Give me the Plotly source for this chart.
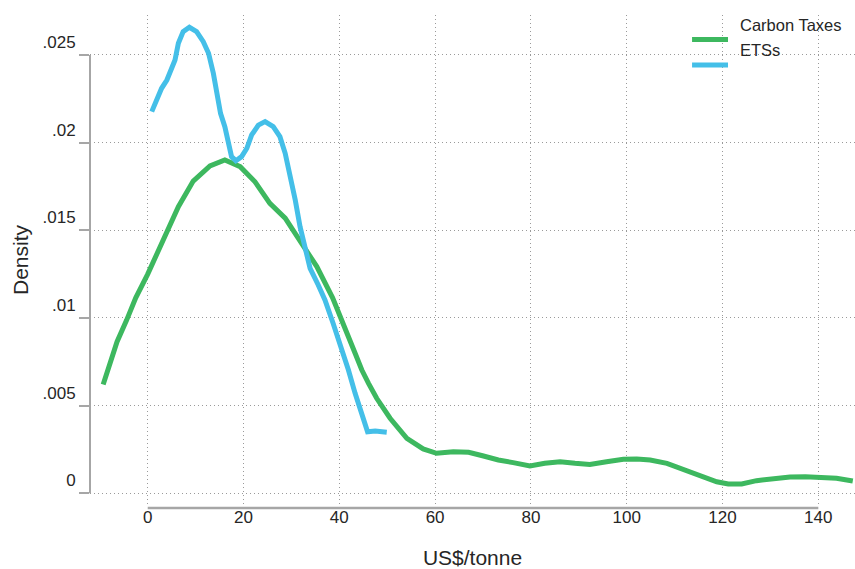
import plotly.graph_objects as go

# ---- data ----
tax_x = [-9.3, -6.4, -4.4, -2.5, 0.0, 3.3, 6.4, 9.5, 13.0, 16.1, 19.3, 22.4, 25.5, 28.7,
         31.8, 35.3, 38.6, 40.2, 41.9, 43.3, 44.7, 46.1, 47.8, 50.6, 54.1, 57.5, 60.3,
         63.8, 67.0, 70.1, 73.2, 76.3, 79.8, 82.9, 86.1, 89.2, 92.3, 95.8, 99.3, 102.1,
         104.9, 108.4, 111.8, 115.3, 118.8, 121.2, 124.0, 127.1, 130.6, 134.1, 137.3,
         140.4, 143.8, 147.2]
tax_y = [0.0062, 0.00865, 0.00988, 0.01115, 0.0125, 0.01445, 0.01635, 0.01781, 0.01867,
         0.01901, 0.01863, 0.01777, 0.01654, 0.01569, 0.01445, 0.01293, 0.01115, 0.00998,
         0.00893, 0.00799, 0.00703, 0.00627, 0.00542, 0.00428, 0.00314, 0.00253, 0.00228,
         0.00237, 0.00234, 0.00213, 0.0019, 0.00175, 0.00156, 0.00171, 0.0018, 0.00171,
         0.00165, 0.0018, 0.00194, 0.00196, 0.0019, 0.00171, 0.00139, 0.00099, 0.00066,
         0.00053, 0.00053, 0.00072, 0.00086, 0.00093, 0.00095, 0.00091, 0.00086, 0.0007]

ets_x = [0.84, 1.9, 2.9, 4.0, 5.0, 5.7, 6.4, 7.4, 8.7, 10.2, 11.6, 12.7, 13.7, 14.5, 15.2,
         16.1, 16.8, 17.5, 18.4, 19.6, 20.7, 21.7, 23.1, 24.5, 26.2, 27.6, 28.7, 29.7,
         30.8, 31.8, 32.9, 33.9, 35.6, 37.0, 38.7, 40.5, 41.9, 43.3, 44.7, 45.9, 47.5, 49.9]
ets_y = [0.02177, 0.02243, 0.0231, 0.02357, 0.02433, 0.02471, 0.02567, 0.02633, 0.02658,
         0.02633, 0.02576, 0.0251, 0.02396, 0.02281, 0.02167, 0.02091, 0.02015, 0.0192,
         0.01897, 0.0192, 0.01968, 0.02044, 0.021, 0.0212, 0.02091, 0.02034, 0.01939,
         0.01825, 0.01673, 0.01521, 0.01407, 0.01283, 0.01188, 0.01103, 0.0097, 0.00827,
         0.00703, 0.0057, 0.00456, 0.00351, 0.00355, 0.00348]

series_names = ["Carbon Taxes", "ETSs"]
x_ticks = [0, 20, 40, 60, 80, 100, 120, 140]
y_ticks = [0, 0.005, 0.01, 0.015, 0.02, 0.025]
y_tick_text = ["0", ".005", ".01", ".015", ".02", ".025"]

GREEN = "#3db85f"
BLUE = "#44bfe8"
AXIS_GREY = "#a6a6a6"
GRID_GREY = "#9a9a9a"
TEXT = "#262626"
FONT = "Liberation Sans, Arial, sans-serif"

fig = go.Figure()
fig.add_trace(go.Scatter(x=tax_x, y=tax_y, mode="lines", name=series_names[0],
                         line=dict(color=GREEN, width=5), showlegend=False))
fig.add_trace(go.Scatter(x=ets_x, y=ets_y, mode="lines", name=series_names[1],
                         line=dict(color=BLUE, width=5), showlegend=False))

# Stata-style axis lines spanning only the labelled range
fig.add_shape(type="line", xref="paper", yref="y", x0=0, x1=0,
              y0=y_ticks[0], y1=y_ticks[-1], line=dict(color=AXIS_GREY, width=2))
fig.add_shape(type="line", xref="x", yref="paper", x0=x_ticks[0], x1=x_ticks[-1],
              y0=-0.006, y1=-0.006, line=dict(color=AXIS_GREY, width=2.5))

# legend (line key sits below the label, as in the reference)
legend_rows = [(0.9796, 0.950, GREEN), (0.9286, 0.898, BLUE)]
for name, (ty, ly, col) in zip(series_names, legend_rows):
    fig.add_shape(type="line", xref="paper", yref="paper", x0=0.787, x1=0.834,
                  y0=ly, y1=ly, line=dict(color=col, width=5))
    fig.add_annotation(xref="paper", yref="paper", x=0.847, y=ty, text=name,
                       showarrow=False, xanchor="left", yanchor="middle",
                       font=dict(family=FONT, size=16.5, color=TEXT))

fig.update_layout(
    width=855, height=569,
    margin=dict(l=90, r=0, t=15, b=64),
    paper_bgcolor="white", plot_bgcolor="white",
    font=dict(family=FONT, color=TEXT),
    showlegend=False,
)
fig.update_xaxes(
    range=[-12.05, 147.66], tickvals=x_ticks, ticktext=[str(v) for v in x_ticks],
    ticks="", showline=False, zeroline=False,
    showgrid=True, gridcolor=GRID_GREY, gridwidth=1, griddash="1px,3px",
    tickfont=dict(family=FONT, size=17, color=TEXT),
    title=dict(text="US$/tonne", font=dict(family=FONT, size=21, color=TEXT), standoff=24),
)
fig.update_yaxes(
    range=[-0.000667, 0.02728], tickvals=y_ticks, ticktext=y_tick_text,
    ticks="outside", ticklen=10, tickwidth=1.5, tickcolor=AXIS_GREY,
    ticklabelshift=-13,
    showline=False, zeroline=False,
    showgrid=True, gridcolor=GRID_GREY, gridwidth=1, griddash="1px,3px",
    tickfont=dict(family=FONT, size=17, color=TEXT),
    title=dict(text="Density", font=dict(family=FONT, size=21, color=TEXT), standoff=8),
)

fig.write_html("out.html", config={"displayModeBar": False},
               post_script="document.body.style.margin='0';")
